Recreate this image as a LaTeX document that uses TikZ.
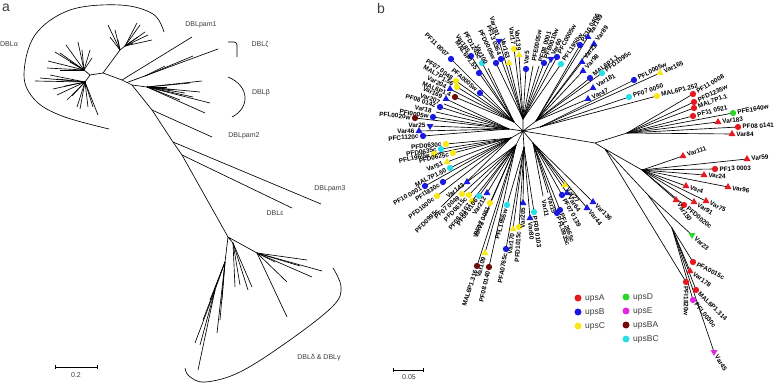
\documentclass[tikz,border=0pt]{standalone}
\usepackage{fontspec}
\setmainfont{Liberation Sans}
\usetikzlibrary{shapes.geometric}
\definecolor{cR}{RGB}{230,25,30}
\definecolor{cB}{RGB}{25,25,225}
\definecolor{cY}{RGB}{248,232,20}
\definecolor{cC}{RGB}{40,222,232}
\definecolor{cG}{RGB}{40,215,40}
\definecolor{cM}{RGB}{225,40,225}
\definecolor{cD}{RGB}{115,10,10}
\definecolor{txa}{RGB}{60,60,60}
\tikzset{
  br/.style={line width=0.65pt, black},
  mc/.style={circle, fill=#1, inner sep=0, minimum size=6.3pt},
  mt/.style={regular polygon, regular polygon sides=3, fill=#1, inner sep=0, minimum size=8pt},
  md/.style={regular polygon, regular polygon sides=3, shape border rotate=180, fill=#1, inner sep=0, minimum size=8pt},
  mn/.style={inner sep=0, minimum size=0},
  lbl/.style={font=\fontsize{6.4}{7}\selectfont\bfseries, inner sep=0},
  lbla/.style={font=\fontsize{7}{8}\selectfont, text=txa, inner sep=0},
  lgd/.style={font=\fontsize{8.5}{10}\selectfont, text=txa, inner sep=0, anchor=west},
  pnl/.style={font=\fontsize{14}{16}\selectfont, text=txa, inner sep=0},
}
\newcommand\fan[3]{\foreach \x/\y [count=\i] in {#3} {\coordinate (#2\i) at (\x,-\y); \draw[br] (#1) -- (#2\i);}}
\newcommand\lfline[7][]{\coordinate (#3) at (#4,-#5); \draw[br] (#2) -- (#3);}
\newcommand\lfmark[7][]{%
  \node[#6] (m#3) at (#3) {};%
  \def\lfref{#1}\ifx\lfref\empty\def\lfref{#2}\fi
  \pgfmathanglebetweenpoints{\pgfpointanchor{\lfref}{center}}{\pgfpointanchor{#3}{center}}%
  \let\lfang\pgfmathresult
  \pgfmathtruncatemacro\lfside{cos(\lfang)<0 ? 1 : 0}%
  \ifnum\lfside=1\relax
    \path (#3) ++(\lfang:4.3) node[lbl,anchor=east,rotate=\lfang-180] (t#3) {#7};%
  \else
    \path (#3) ++(\lfang:4.3) node[lbl,anchor=west,rotate=\lfang] (t#3) {#7};%
  \fi}
\newcommand\bleaves{%
  % top group
  \leafx{HTL}{b1}{451}{59}{mc=cB}{PF11 0007}
  \leafx{HTL}{b2}{471}{56}{mc=cB}{Var185}
  \leafx{HTL}{b3}{482}{63}{mc=cC}{PFD1245c}
  \leafx{HTL}{b4}{479}{73}{mc=cB}{MAL6P1.55}
  \leafx{HTL}{b5}{488}{68}{mn}{Var100}
  \leafx{HT}{b6}{496}{63}{mc=cB}{PFD0005w}
  \leafx{HT}{b7}{501}{59}{mc=cB}{PF13 0364}
  \leafx{HT}{b8}{499}{41}{md=cB}{Var191}
  \leafx{HT}{b9}{514}{49}{mc=cY}{Var17}
  \leafx{HT}{b10}{519}{55}{mt=cY}{Var139}
  \leafx{HT}{b11}{509}{63}{mt=cY}{Var163}
  \leafx{HT}{b12}{526}{69}{mc=cB}{Var5}
  \leafx{HT}{b13}{533}{66}{mn}{PFE0005w}
  \leafx{HT}{b14}{539}{66}{mn}{PF08 0001}
  \leafx{HT}{b15}{544}{63}{mc=cB}{PFB0010w}
  \leafx{HT}{b16}{551}{59}{md=cB}{Var60}
  \leafx{HT}{b17}{557}{57}{mc=cB}{PFC0005w}
  \leafx{HT}{b18}{561}{64}{mc=cC}{PFL1950w}
  % upper right
  \leafx{HUR}{b19}{580}{45}{mc=cB}{PF10 0406}
  \leafx{HUR}{b20}{588}{37}{mt=cB}{Var149}
  \leafx{HUR}{b21}{594}{44}{mt=cB}{Var89}
  \leafx{HUR}{b22}{582}{62}{mt=cB}{Var21}
  \leafx{HUR}{b23}{583}{71}{mt=cB}{Var98}
  \leafx{HUR}{b24}{590}{78}{mc=cB}{MAL6P1.1}
  \leafx{HUR}{b25}{602}{73}{mc=cC}{PFD1095c}
  \leafx{HUR}{b26}{593}{88}{mt=cB}{Var181}
  \leafx{HUR}{b27}{588}{99}{mt=cB}{Var47}
  \leafx{U1}{b28}{634}{80}{mc=cB}{PFL0005w}
  \leafx{U1}{b29}{660}{73}{mt=cY}{Var165}
  \leafx{U1}{b30}{629}{97}{mc=cC}{PF07 0050}
  \leafx{U1}{b31}{657}{96}{mc=cY}{MAL6P1.252}
  % upsA cluster 1
  \leafx{RA}{b32}{693}{94}{mc=cR}{PF11 0008}
  \leafx{RA}{b33}{694}{102}{mc=cR}{PFD1235w}
  \leafx{RA}{b34}{694}{108}{mc=cR}{MAL7P1.1}
  \leafx{RA}{b35}{693}{116}{mc=cR}{PF11 0521}
  \leafx{RA}{b36}{733}{113}{mc=cG}{PFE1640w}
  \leafx{RA}{b37}{718}{122}{mt=cR}{Var183}
  \leafx{RA}{b38}{738}{127}{mc=cR}{PF08 0141}
  \leafx{RA}{b39}{732}{134}{mt=cR}{Var84}
  % upsA cluster 2
  \leafx{RB}{b40}{683}{156}{mt=cR}{Var111}
  \leafx{RB}{b41}{747}{159}{mt=cR}{Var59}
  \leafx{RB}{b42}{715}{169}{mc=cR}{PF13 0003}
  \leafx{RB}{b43}{704}{175}{mt=cR}{Var24}
  \leafx{RB}{b44}{686}{186}{mt=cR}{Var4}
  \leafx{RB}{b45}{728}{187}{mt=cR}{Var96}
  \leafx{RB}{b46}{706}{201}{mt=cR}{Var75}
  \leafx{RB}{b47}{694}{202}{mt=cR}{Var91}
  \leafx{RB}{b48}{684}{205}{mc=cR}{PFD0020c}
  \leafx[Q3]{RB}{b49}{676}{200}{mt=cR}{Var150}
  % lower right
  \leafx{S1}{b50}{692}{235}{md=cG}{Var23}
  \leafx[Q1]{S2}{b51}{693}{262}{mc=cR}{PFA0015c}
  \leafx[Q1]{S2}{b52}{690}{271}{mt=cR}{Var178}
  \leafx[Q1]{S2}{b53}{696}{290}{mc=cR}{MAL6P1.314}
  \leafx[Q1]{S2}{b54}{693}{300}{mc=cM}{PFL0030c}
  \leafx[Q1]{S2}{b55}{714}{352}{md=cM}{Var45}
  \leafx[Q2]{R2}{b56}{686}{282}{mc=cR}{PFI1820w}
  % left
  \leafx{HTL}{b57}{456}{81}{mc=cY}{PF07 0048}
  \leafx{HTL}{b58}{457}{87}{mc=cY}{MAL7P1.56}
  \leafx{HTL}{b59}{450}{89}{mt=cB}{Var204}
  \leafx{HTL}{b60}{480}{93}{mc=cB}{PFA0005w}
  \leafx{HTL}{b61}{455}{97}{mc=cD}{MAL6P1.4}
  \leafx{HL}{b62}{446}{99}{mt=cB}{Var169}
  \leafx{HL}{b63}{444}{104}{mn}{Var207}
  \leafx{HL}{b64}{440}{107}{mc=cB}{PF08 0142}
  \leafx{HL}{b65}{436}{112}{mn}{Var18}
  \leafx{HL}{b66}{433}{117}{mc=cB}{PFI0005w}
  \leafx{HL}{b67}{415}{118}{mc=cD}{PFL0020w}
  \leafx{HL}{b68}{430}{126}{md=cB}{Var25}
  \leafx{HL}{b69}{419}{131}{mt=cB}{Var46}
  \leafx{HL}{b70}{423}{136}{mc=cB}{PFC1120c}
  \leafx{HLL}{b71}{446}{144}{mc=cY}{PFD0630c}
  \leafx{HLL}{b72}{441}{149}{mc=cC}{PFD0635c}
  \leafx{HLL}{b73}{434}{154}{mc=cY}{PFL1960w}
  \leafx{HLL}{b74}{453}{153}{mc=cY}{PFD0625c}
  \leafx{HLL}{b75}{447}{162}{mt=cY}{Var51}
  \leafx{HLL}{b76}{450}{168}{mc=cC}{MAL7P1.50}
  \leafx{HLL}{b77}{443}{182}{mc=cB}{PFI1830c}
  \leafx{HLL}{b78}{425}{186}{mc=cB}{PF10 0001}
  \leafx{HLL}{b79}{437}{196}{mc=cY}{PFD1000c}
  \leafx{HLL}{b80}{441}{207}{mn}{PFD0995c}
  \leafx{HB1}{b81}{467}{182}{mt=cB}{Var143}
  \leafx{HB1}{b82}{462}{194}{mc=cY}{PF07 0049}
  \leafx{HB1}{b83}{469}{195}{mc=cY}{PFD0615c}
  \leafx{HB1}{b84}{472}{201}{mc=cY}{PF08 0107}
  \leafx{HB1}{b85}{479}{196}{mc=cC}{PF08 0106}
  \leafx{HB1}{b86}{487}{193}{mt=cB}{Var212}
  \leafx{HB1}{b87}{490}{203}{mc=cY}{PF07 0051}
  \leafx{HB1}{b88}{484}{218}{mn}{Var78}
  \leafx{HB1}{b89}{485}{253}{mt=cY}{Var109}
  \leafx{HB1}{b90}{477}{266}{mc=cD}{MAL6P1.316}
  \leafx{HB1}{b91}{489}{267}{mc=cD}{PF08 0140}
  \leafx{HB2}{b92}{507}{205}{mc=cC}{PFL1955w}
  \leafx{HB2}{b93}{506}{249}{mc=cB}{PFA0765c}
  \leafx{HB2}{b94}{513}{229}{mt=cY}{Var170}
  \leafx{HB2}{b95}{519}{227}{mc=cY}{PFD1015c}
  \leafx{HB2}{b96}{523}{203}{mt=cB}{Var205}
  \leafx{HB2}{b97}{530}{218}{mt=cB}{Var80}
  \leafx{HB2}{b98}{534}{212}{mc=cC}{PF08 0103}
  \leafx{HB3}{b99}{543}{196}{mn}{Var11}
  \leafx{HB3}{b100}{548}{193}{mn}{Var15}
  \leafx{HB3}{b101}{557}{213}{mc=cB}{PFL0935c}
  \leafx{HB3}{b102}{560}{210}{mc=cB}{PFL2665c}
  \leafx{HB3}{b103}{562}{195}{mc=cB}{PF07 0139}
  \leafx{HB3}{b104}{567}{193}{mt=cB}{Var64}
  \leafx{HB3}{b105}{565}{185}{mt=cY}{Var27}
  \leafx{HB3}{b106}{593}{202}{mt=cB}{Var136}
  \leafx{HB3}{b107}{587}{208}{mt=cB}{Var44}
}
\begin{document}
\begin{tikzpicture}[x=1pt,y=1pt]
\useasboundingbox (0,0) rectangle (778,-385);
% ================= panel a =================
\node[pnl] (la) at (6,-8) {a};
\coordinate (A0) at (90,-75);
\coordinate (A1) at (103,-73);
\coordinate (A2) at (122,-80);
\coordinate (Z0) at (127,-82.5);
\coordinate (A3) at (132,-85);
\coordinate (T1) at (152,-110);
\coordinate (T2) at (173,-142);
\coordinate (T3) at (182,-155);
\coordinate (D0) at (228,-237);
\draw[br] (A0) -- (A1) -- (A2) -- (Z0) -- (A3) -- (T1) -- (T2) -- (T3) -- (D0);
\coordinate (Aa) at (84,-70);
\coordinate (Ab) at (85,-82);
\draw[br] (A0) -- (Aa) (A0) -- (Ab);
\fan{Aa}{aa}{48/61,55/52,60/53,78/42,82/50,90/50,92/58,70/62,47/68,60/70,66/45}
\fan{Ab}{ab}{35/81,57/79,50/75,53/89,57/95,67/100,77/107,80/109,88/107,93/107,98/115,40/78,65/86,72/96}
\coordinate (B0) at (120,-50);
\coordinate (B1) at (125,-46);
\draw[br] (A1) -- (B0) -- (B1);
\fan{B0}{ba}{108/25,110/37,115/30,118/40}
\fan{B1}{bb}{137/23,140/25,145/32,152/40,138/37,133/43,148/35}
\coordinate (P1) at (192,-37);
\draw[br] (A2) -- (P1);
\coordinate (Z1) at (145,-76);
\coordinate (Z2) at (218,-49);
\draw[br] (Z0) -- (Z2) (Z0) -- (Z1);
\fan{Z1}{zz}{165/66,193/56}
\coordinate (Bb) at (147,-87);
\draw[br] (A3) -- (Bb);
\fan{Bb}{bt}{202/81,190/83,200/92,210/103,205/113,193/97,185/93,173/90,167/87,180/100}
\coordinate (P2) at (212,-137);
\coordinate (P3) at (321,-204);
\coordinate (E1) at (292,-208);
\draw[br] (T1) -- (P2) (T2) -- (P3) (T3) -- (E1);
\coordinate (D1) at (257,-253);
\coordinate (D2) at (233,-243);
\coordinate (D3) at (225,-262);
\coordinate (D4) at (215,-290);
\draw[br] (D0) -- (D1) (D0) -- (D2) (D0) -- (D3) -- (D4);
\fan{D1}{da}{307/260,322/271,312/277,287/282,287/317,275/262,300/266}
\fan{D2}{db}{248/290,252/287,240/285,235/287}
\fan{D3}{dc}{217/333,203/320,220/320,222/300,210/300}
\fan{D4}{dd}{198/370,195/343,200/345}
% clade marks
\draw[br] plot[smooth, tension=0.6] coordinates {(164,-32) (153,-14) (120,-5) (70,-10) (35,-35) (24,-75) (35,-100) (62,-116) (109,-129)};
\draw[br, rounded corners=3pt] (228,-42) -- (237,-42) -- (237,-57);
\draw[br] (228,-77) .. controls (250,-86) and (250,-108) .. (232,-117);
\draw[br] plot[smooth, tension=0.6] coordinates {(333,-268) (341,-287) (333,-306) (290,-340) (240,-372) (205,-382) (189,-376) (185,-368)};
% labels a
\node[lbla] (lal) at (9,-44) {DBLα};
\node[lbla] (lp1) at (201,-25) {DBLpam1};
\node[lbla] (lz) at (260,-45) {DBLζ};
\node[lbla] (lb) at (261,-93) {DBLβ};
\node[lbla] (lp2) at (244,-136) {DBLpam2};
\node[lbla] (lp3) at (330,-189) {DBLpam3};
\node[lbla] (le) at (275,-213) {DBLε};
\node[lbla] (ldg) at (319,-358) {DBLδ \& DBLγ};
\coordinate (sa1) at (55,-367);
\coordinate (sa2) at (97,-367);
\draw[br] (sa1) -- (sa2);
\draw[br] (sa1) ++(0,2) -- ++(0,-4);
\draw[br] (sa2) ++(0,2) -- ++(0,-4);
\node[lbla] (sal) at (76,-375) {0.2};
% ================= panel b =================
\node[pnl] (lbp) at (381,-8) {b};
\coordinate (C) at (523,-131);
\coordinate (HTL) at (514,-122);
\coordinate (HT) at (523,-119);
\coordinate (HUR) at (536,-121);
\coordinate (HL) at (509,-129);
\coordinate (HLL) at (511,-138);
\coordinate (HB1) at (516,-145);
\coordinate (HB2) at (524,-147);
\coordinate (HB3) at (533,-143);
\coordinate (U1) at (540,-127);
\coordinate (R1) at (595,-143);
\coordinate (RA) at (627,-133);
\coordinate (R2) at (605,-149);
\coordinate (RB) at (642,-170);
\coordinate (S1) at (648,-195);
\coordinate (S2) at (672,-228);
\coordinate (Q1) at (640,-235);
\coordinate (Q2) at (686,-250);
\coordinate (Q3) at (655,-170);
\draw[br] (C) -- (HTL) (C) -- (HT) (C) -- (HUR) (C) -- (HL) (C) -- (HLL) (C) -- (HB1) (C) -- (HB2) (C) -- (HB3) (C) -- (U1);
\draw[br] (C) -- (R1) -- (RA) (R1) -- (R2) -- (RB) (R2) -- (S1) -- (S2);
\let\leafx\lfline
\bleaves
\let\leafx\lfmark
\bleaves
% scale b
\coordinate (sb1) at (393,-370);
\coordinate (sb2) at (423,-370);
\draw[br] (sb1) -- (sb2);
\draw[br] (sb1) ++(0,2) -- ++(0,-4);
\draw[br] (sb2) ++(0,2) -- ++(0,-4);
\node[lbla] (sbl) at (409,-377) {0.05};
% legend
\node[mc=cR, minimum size=7pt] (g1) at (578,-298) {};
\node[mc=cB, minimum size=7pt] (g2) at (578,-312) {};
\node[mc=cY, minimum size=7pt] (g3) at (578,-326) {};
\node[mc=cG, minimum size=7pt] (g4) at (626,-297) {};
\node[mc=cM, minimum size=7pt] (g5) at (626,-311) {};
\node[mc=cD, minimum size=7pt] (g6) at (626,-325) {};
\node[mc=cC, minimum size=7pt] (g7) at (626,-339) {};
\node[lgd] (x1) at (585,-298) {upsA};
\node[lgd] (x2) at (585,-312) {upsB};
\node[lgd] (x3) at (585,-326) {upsC};
\node[lgd] (x4) at (633,-297) {upsD};
\node[lgd] (x5) at (633,-311) {upsE};
\node[lgd] (x6) at (633,-325) {upsBA};
\node[lgd] (x7) at (633,-339) {upsBC};
\end{tikzpicture}
\end{document}
